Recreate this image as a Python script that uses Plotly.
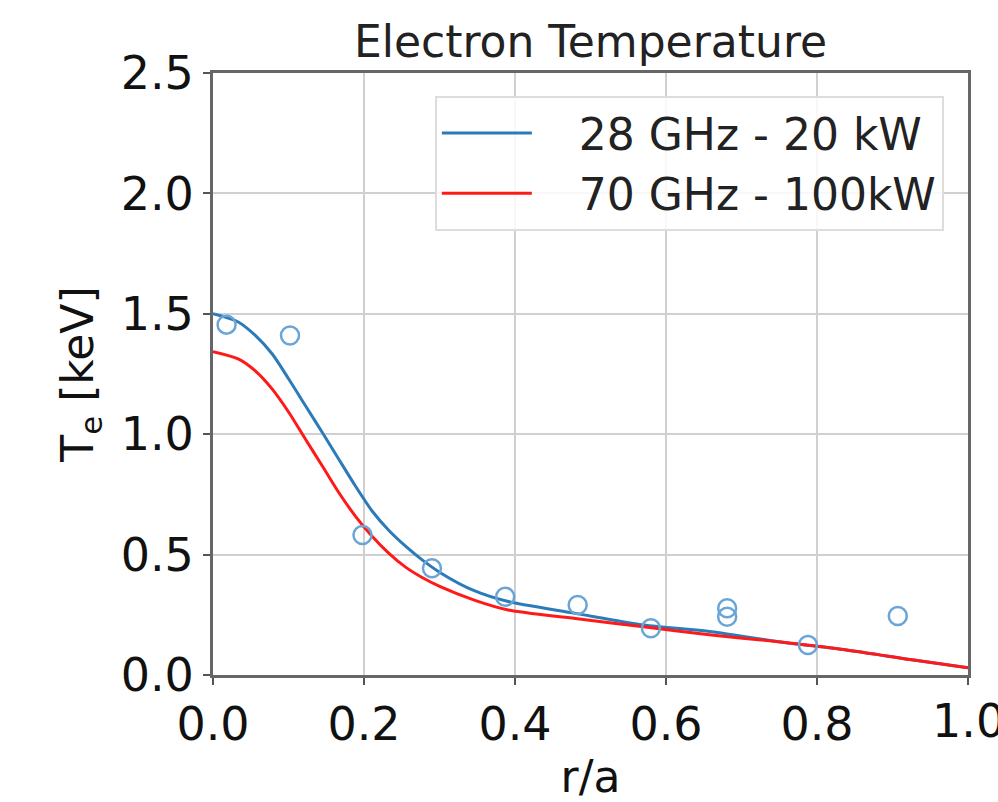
import plotly.graph_objects as go

# Measured data (circles)
meas_x = [0.018, 0.102, 0.198, 0.290, 0.387, 0.483, 0.580, 0.681, 0.681, 0.788, 0.907]
meas_y = [1.455, 1.410, 0.581, 0.443, 0.325, 0.291, 0.194, 0.242, 0.277, 0.125, 0.245]

# 28 GHz - 20 kW model profile
blue_x = [0.0, 0.034, 0.056, 0.0785, 0.1005, 0.1227, 0.145, 0.167, 0.189, 0.211, 0.233,
          0.255, 0.277, 0.301, 0.346, 0.391, 0.48, 0.57, 0.66, 0.749, 0.839, 0.928, 1.0]
blue_y = [1.50, 1.465, 1.41, 1.333, 1.228, 1.117, 1.006, 0.894, 0.783, 0.680, 0.600,
          0.535, 0.478, 0.425, 0.350, 0.305, 0.256, 0.208, 0.180, 0.138, 0.104, 0.062, 0.030]

# 70 GHz - 100kW model profile
red_x = [0.0, 0.034, 0.056, 0.0785, 0.1005, 0.1227, 0.145, 0.167, 0.189, 0.211, 0.233,
         0.255, 0.277, 0.301, 0.346, 0.391, 0.48, 0.57, 0.66, 0.749, 0.839, 0.928, 1.0]
red_y = [1.343, 1.312, 1.263, 1.187, 1.090, 0.978, 0.867, 0.756, 0.658, 0.575, 0.505,
         0.448, 0.405, 0.367, 0.311, 0.270, 0.235, 0.200, 0.166, 0.138, 0.104, 0.062, 0.030]

x_ticks = [0.0, 0.2, 0.4, 0.6, 0.8, 1.0]
y_ticks = [0.0, 0.5, 1.0, 1.5, 2.0, 2.5]

FONT = "DejaVu Sans"
TICK_SIZE = 46
NB = "\u00a0"

fig = go.Figure()
fig.add_trace(go.Scatter(x=blue_x, y=blue_y, mode="lines", name=NB * 3 + "28 GHz - 20 kW",
                         line=dict(color="#2b7bba", width=3, shape="spline", smoothing=0.8)))
fig.add_trace(go.Scatter(x=red_x, y=red_y, mode="lines", name=NB * 3 + "70 GHz - 100kW",
                         line=dict(color="#ff1a1a", width=3, shape="spline", smoothing=0.8)))
fig.add_trace(go.Scatter(x=meas_x, y=meas_y, mode="markers", showlegend=False,
                         marker=dict(symbol="circle-open", size=18, color="#6aa5d6",
                                     line=dict(width=2.5, color="#6aa5d6"))))

axis_common = dict(
    showgrid=True, gridcolor="#d0d0d0", gridwidth=2,
    showline=True, linecolor="#666666", linewidth=3, mirror=True,
    ticks="outside", ticklen=7, tickwidth=2, tickcolor="#555555",
    zeroline=False, automargin=False,
    tickfont=dict(family=FONT, size=TICK_SIZE, color="#111111"),
)

fig.update_layout(
    width=998, height=802,
    margin=dict(l=213, r=30, t=73, b=127),
    paper_bgcolor="white", plot_bgcolor="white",
    font=dict(family=FONT, color="#111111"),
    title=dict(text="Electron Temperature", x=0.5, xref="paper", xanchor="center",
               y=1 - 42 / 802, yref="container", yanchor="middle",
               font=dict(family=FONT, size=44, color="#222222")),
    xaxis=dict(range=[0, 1.0], tickvals=x_ticks, ticktext=[f"{v:.1f}" for v in x_ticks],
               title=dict(text="r/a", font=dict(family=FONT, size=44), standoff=14),
               **axis_common),
    yaxis=dict(range=[0, 2.5], tickvals=y_ticks, ticktext=[f"{v:.1f}" for v in y_ticks],
               title=dict(text="T<sub>e</sub> [keV]", font=dict(family=FONT, size=44), standoff=14),
               **axis_common),
    legend=dict(x=0.968, y=0.962, xanchor="right", yanchor="top",
                bgcolor="rgba(255,255,255,0.85)", bordercolor="#dddddd", borderwidth=2,
                font=dict(family=FONT, size=44, color="#222222"),
                itemwidth=90, tracegroupgap=4),
)

# Last x tick label (partly cut by the page edge in the reference)
fig.add_annotation(x=x_ticks[-1], xref="x", y=0, yref="paper", yanchor="top",
                   xanchor="center", yshift=-17, showarrow=False,
                   text=f"{x_ticks[-1]:.1f}",
                   font=dict(family=FONT, size=TICK_SIZE, color="#111111"))

fig.write_html("out.html")
